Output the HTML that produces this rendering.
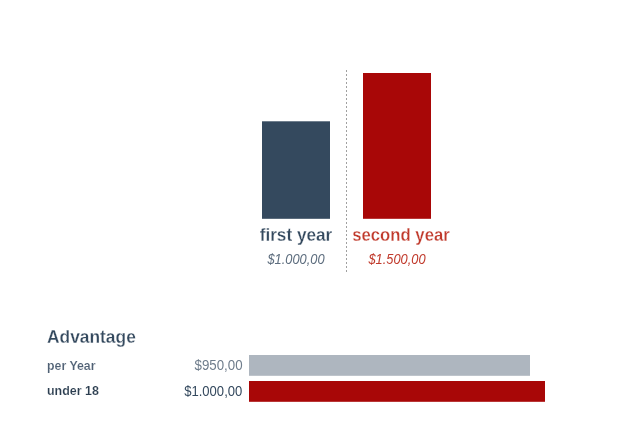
<!DOCTYPE html>
<html><head><meta charset="utf-8">
<style>
html,body{margin:0;padding:0;background:#fff;}
body{width:641px;height:446px;position:relative;overflow:hidden;font-family:"Liberation Sans",sans-serif;}
.abs{position:absolute;white-space:nowrap;line-height:1;}
.b{-webkit-text-stroke:0.28px #fff;}
.b2{-webkit-text-stroke:0.15px #fff;}
.l{transform-origin:left center;}
.r{transform-origin:right center;}
.c{transform-origin:center center;}
svg{position:absolute;left:0;top:0;}
</style></head><body>
<svg width="641" height="446" viewBox="0 0 641 446">
<rect x="262" y="121.3" width="68" height="97.5" fill="#34495e"/>
<rect x="363" y="73" width="68" height="145.8" fill="#a80707"/>
<line x1="346.5" y1="70" x2="346.5" y2="272" stroke="#a0a0a0" stroke-width="1" stroke-dasharray="2 2" shape-rendering="crispEdges"/>
<rect x="249" y="355" width="281" height="20.8" fill="#aeb6bf"/>
<rect x="249" y="381" width="296" height="20.8" fill="#a80707"/>
</svg>
<div id="t1" class="abs b c" style="left:246px;width:100px;text-align:center;top:226.25px;font-size:18px;font-weight:bold;color:#34495e;transform:scaleX(0.955)">first year</div>
<div id="t2" class="abs c" style="left:246px;width:100px;text-align:center;top:251.7px;font-size:14.5px;font-style:italic;color:#5d6d7e;transform:scaleX(0.885)">$1.000,00</div>
<div id="t3" class="abs b c" style="left:341.2px;width:120px;text-align:center;top:226.25px;font-size:18px;font-weight:bold;color:#c0392b;transform:scaleX(0.928)">second year</div>
<div id="t4" class="abs c" style="left:347px;width:100px;text-align:center;top:251.7px;font-size:14.5px;font-style:italic;color:#c0392b;transform:scaleX(0.885)">$1.500,00</div>
<div id="t5" class="abs b l" style="left:47px;top:327.7px;font-size:18px;font-weight:bold;color:#34495e;transform:scaleX(0.965)">Advantage</div>
<div id="t6" class="abs b2 l" style="left:47px;top:358.6px;font-size:13px;font-weight:bold;color:#4f6074;transform:scaleX(0.95)">per Year</div>
<div id="t7" class="abs b2 l" style="left:47px;top:384.4px;font-size:13px;font-weight:bold;color:#2c3e50;transform:scaleX(0.957)">under 18</div>
<div id="t8" class="abs r" style="right:398.4px;top:358.1px;font-size:14px;color:#6f7d8c;transform:scaleX(0.95)">$950,00</div>
<div id="t9" class="abs r" style="right:398.8px;top:383.9px;font-size:14px;color:#34495e;transform:scaleX(0.933)">$1.000,00</div>
</body></html>
